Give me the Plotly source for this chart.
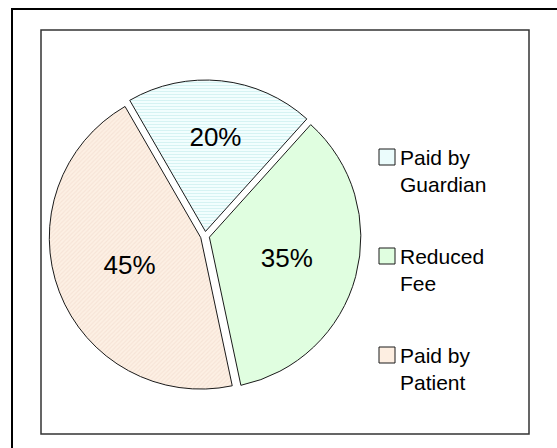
import plotly.graph_objects as go

labels = ["Paid by<br>Guardian", "Reduced<br>Fee", "Paid by<br>Patient"]
values = [20, 35, 45]
colors = ["#ebfcfc", "#e0fee0", "#fdeee1"]

W, H = 557, 448

def px(x):
    return x / W

def py(y):
    return 1 - y / H

FONT = "Liberation Sans, Arial, sans-serif"

fig = go.Figure(
    go.Pie(
        labels=labels,
        values=values,
        sort=False,
        direction="clockwise",
        rotation=-30,
        pull=0.03,
        textinfo="percent",
        textposition="inside",
        insidetextorientation="horizontal",
        textfont=dict(family=FONT, size=26, color="black"),
        marker=dict(
            colors=colors,
            line=dict(color="#1a1a1a", width=1),
            pattern=dict(
                shape=["-", "", "/"],
                fgcolor=["#d6f3f3", "#e0fee0", "#f6e3d6"],
                bgcolor=["#f2fefe", "#e0fee0", "#fdf0e4"],
                size=3,
                solidity=0.35,
            ),
        ),
        domain=dict(x=[px(49), px(361)], y=[py(392), py(80)]),
        hoverinfo="label+percent",
        showlegend=False,
    )
)

# outer frame (only its top and left edges fall inside the picture) and inner frame
shapes = [
    dict(type="line", xref="paper", yref="paper",
         x0=px(11), x1=1, y0=py(9), y1=py(9),
         line=dict(color="black", width=2), layer="below"),
    dict(type="line", xref="paper", yref="paper",
         x0=px(12), x1=px(12), y0=py(8), y1=0,
         line=dict(color="black", width=2), layer="below"),
    dict(type="rect", xref="paper", yref="paper",
         x0=px(41), x1=px(529), y0=py(434), y1=py(30),
         line=dict(color="#333333", width=1.5), layer="below"),
]

# legend drawn as squares + text, one entry per slice
legend_tops = [149, 248, 347]
annotations = []
for lab, col, top in zip(labels, colors, legend_tops):
    shapes.append(dict(type="rect", xref="paper", yref="paper",
                       x0=px(379), x1=px(395), y0=py(top + 16), y1=py(top),
                       fillcolor=col, line=dict(color="#1a1a1a", width=1)))
    annotations.append(dict(xref="paper", yref="paper", x=px(398), y=py(top - 5),
                            xanchor="left", yanchor="top", align="left",
                            showarrow=False, text=lab,
                            font=dict(family=FONT, size=21, color="black")))

fig.update_layout(
    width=W,
    height=H,
    margin=dict(l=0, r=0, t=0, b=0),
    paper_bgcolor="white",
    plot_bgcolor="white",
    font=dict(family=FONT, color="black"),
    showlegend=False,
    shapes=shapes,
    annotations=annotations,
)

fig.write_html(
    "out.html",
    config={"displayModeBar": False, "responsive": False},
    post_script=(
        "document.body.style.margin='0';"
        "document.body.style.overflow='hidden';"
        "document.documentElement.style.overflow='hidden';"
    ),
)
